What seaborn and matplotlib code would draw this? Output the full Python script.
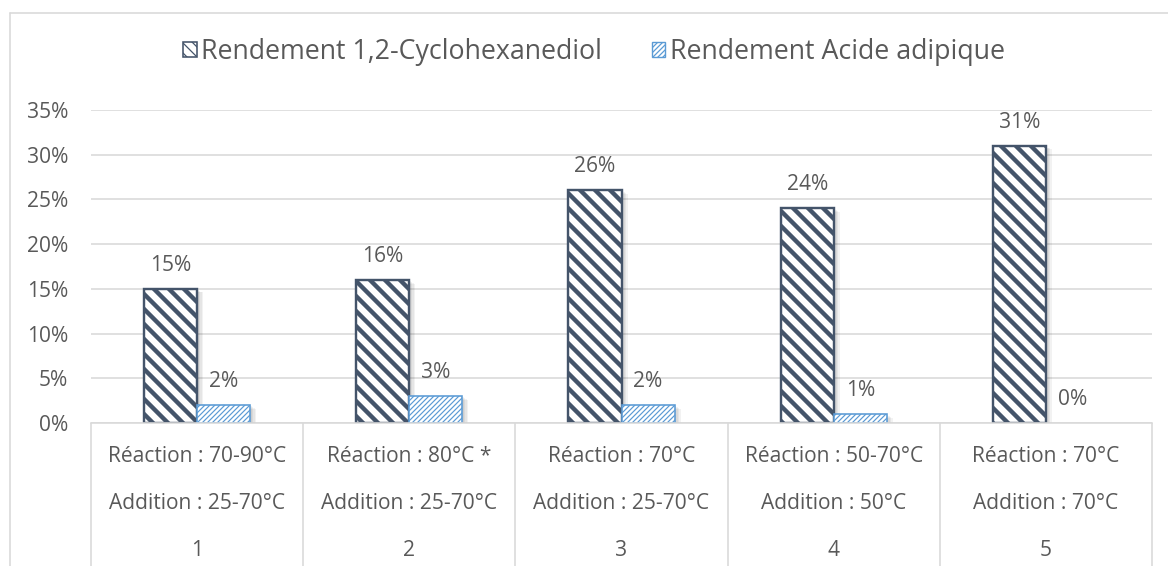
import matplotlib
matplotlib.use("Agg")
import matplotlib.pyplot as plt
import matplotlib.patheffects as pe
from matplotlib.lines import Line2D
from matplotlib.patches import Patch
from matplotlib.ticker import FuncFormatter
import numpy as np
import pandas as pd
import seaborn as sns

# --- data -------------------------------------------------------------
essais = ["1", "2", "3", "4", "5"]
reaction = ["Réaction : 70-90°C", "Réaction : 80°C *", "Réaction : 70°C",
            "Réaction : 50-70°C", "Réaction : 70°C"]
addition = ["Addition : 25-70°C", "Addition : 25-70°C", "Addition : 25-70°C",
            "Addition : 50°C", "Addition : 70°C"]
series = ["Rendement 1,2-Cyclohexanediol", "Rendement Acide adipique"]
rdt_diol = [0.15, 0.16, 0.26, 0.24, 0.31]
rdt_adipique = [0.02, 0.03, 0.02, 0.01, 0.00]
y_ticks = [0.00, 0.05, 0.10, 0.15, 0.20, 0.25, 0.30, 0.35]

# --- style ------------------------------------------------------------
DPI = 90
W, H = 1168, 566
def px(v):          # pixels -> points
    return v * 72.0 / DPI

sns.set_style("white")
plt.rcParams["font.family"] = ["Open Sans", "DejaVu Sans"]
TXT = "#595959"
GRID = "#D9D9D9"
DARK = "#44546A"
BLUE = "#5B9BD5"

df = pd.DataFrame({
    "essai": essais * 2,
    "serie": [series[0]] * 5 + [series[1]] * 5,
    "rendement": rdt_diol + rdt_adipique,
})

fig = plt.figure(figsize=(W / DPI, H / DPI), dpi=DPI)
ax_left, ax_right, ax_top, ax_bot = 91, 1152, 110, 423
ax = fig.add_axes([ax_left / W, 1 - ax_bot / H,
                   (ax_right - ax_left) / W, (ax_bot - ax_top) / H])

sns.barplot(data=df, x="essai", y="rendement", hue="serie", order=essais,
            hue_order=series, palette=["white", "white"], width=0.5,
            dodge=True, legend=False, ax=ax, errorbar=None)

# soft drop shadow built from a few faint offset copies
shadow = [pe.SimplePatchShadow(offset=(px(d), -px(d * 0.6)), shadow_rgbFace="black",
                               alpha=0.05, hatch=None, linewidth=0)
          for d in (1.5, 3, 4.5, 6)] + [pe.Normal()]

styles = [dict(edge=DARK, hatch="\\\\", hlw=px(4.4), lw=px(2.4)),
          dict(edge=BLUE, hatch="//////", hlw=px(1.2), lw=px(1.6))]
for cont, st in zip(ax.containers, styles):
    for bar, v in zip(cont, cont.datavalues):
        bar.set_facecolor("white")
        bar.set_edgecolor(st["edge"] if v > 0 else "none")
        bar.set_hatch(st["hatch"])
        bar.set_linewidth(st["lw"])
        if hasattr(bar, "set_hatch_linewidth"):
            bar.set_hatch_linewidth(st["hlw"])
        if v > 0:
            bar.set_path_effects(shadow)
        bar.set_zorder(3)
    ax.bar_label(cont, labels=[f"{v:.0%}" for v in cont.datavalues],
                 padding=px(13), fontsize=px(21), color=TXT)

ax.set_xlim(-0.5, len(essais) - 0.5)
ax.set_ylim(0, 0.35)
ax.set_yticks(y_ticks)
ax.yaxis.set_major_formatter(FuncFormatter(lambda v, _: f"{v:.0%}"))
ax.set_xticks(range(len(essais)))
ax.set_xticklabels([f"{r}\n{a}\n{e}" for r, a, e in zip(reaction, addition, essais)],
                   linespacing=2.6)
ax.tick_params(axis="y", length=0, pad=px(23), labelsize=px(21), labelcolor=TXT)
ax.tick_params(axis="x", length=0, pad=px(23.5), labelsize=px(21), labelcolor=TXT)
ax.set_xlabel("")
ax.set_ylabel("")
ax.grid(axis="y", color=GRID, linewidth=px(1.6), zorder=0)
ax.set_axisbelow(True)
for side in ["left", "right", "top"]:
    ax.spines[side].set_visible(False)
ax.spines["bottom"].set_color(GRID)
ax.spines["bottom"].set_linewidth(px(1.6))
ax.spines["bottom"].set_zorder(4)

# category table separators below the axis
depth = (H - ax_bot) / (ax_bot - ax_top)
bounds = np.arange(len(essais) + 1) - 0.5
ax.vlines(bounds, -depth, 0, transform=ax.get_xaxis_transform(),
          colors=GRID, linewidth=px(1.6), clip_on=False)

# legend
handles = [Patch(facecolor="white", edgecolor=DARK, hatch="\\\\\\", linewidth=px(1.6)),
           Patch(facecolor="white", edgecolor=BLUE, hatch="//////", linewidth=px(1.4))]
if hasattr(handles[0], "set_hatch_linewidth"):
    handles[0].set_hatch_linewidth(px(5.0))
    handles[1].set_hatch_linewidth(px(1.2))
leg = ax.legend(handles, series, loc="center", bbox_to_anchor=(594 / W, 1 - 52 / H),
                bbox_transform=fig.transFigure, ncol=2, frameon=False,
                fontsize=px(26.7), handlelength=0.5, handleheight=0.5,
                handletextpad=0.18, columnspacing=1.85, labelcolor=TXT)

# chart area border
fig.add_artist(Line2D([10 / W, 1], [1 - 13 / H] * 2, transform=fig.transFigure,
                      color=GRID, linewidth=px(1.6)))
fig.add_artist(Line2D([10 / W, 10 / W], [0, 1 - 13 / H], transform=fig.transFigure,
                      color=GRID, linewidth=px(1.6)))

fig.savefig("out.png", dpi=DPI, facecolor="white")
